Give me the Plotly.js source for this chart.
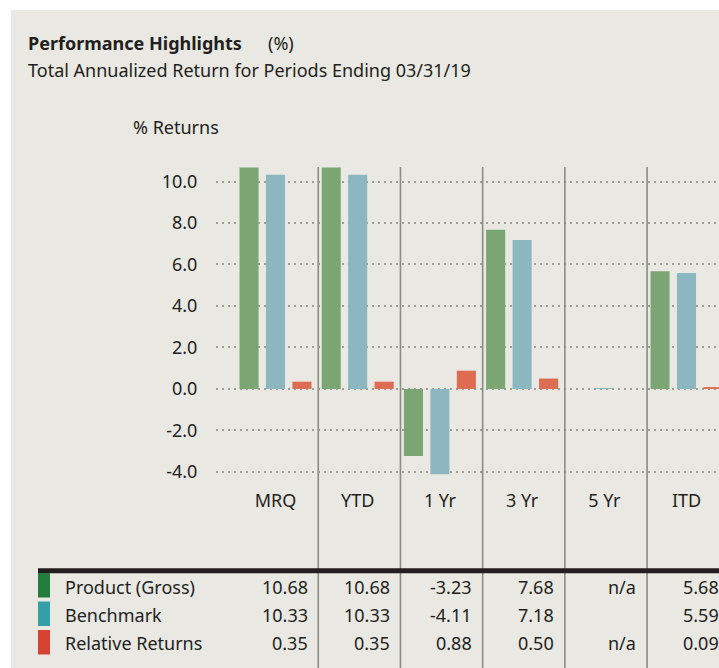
<!DOCTYPE html>
<html><head><meta charset="utf-8">
<script src="https://cdn.plot.ly/plotly-3.0.1.min.js"></script>
<style>
html,body{margin:0;padding:0;background:#ffffff;overflow:hidden;width:719px;height:668px;position:relative;}
#chart{position:absolute;left:11px;top:10px;width:740px;height:658px;}
</style>
</head><body><div id="chart"></div>
<script>
// ---- data ----
const categories = ['MRQ', 'YTD', '1 Yr', '3 Yr', '5 Yr', 'ITD'];
const seriesNames = ['Product (Gross)', 'Benchmark', 'Relative Returns'];
const productValues = [10.68, 10.68, -3.23, 7.68, null, 5.68];
const benchmarkValues = [10.33, 10.33, -4.11, 7.18, 0.05, 5.59];
const relativeValues = [0.35, 0.35, 0.88, 0.50, null, 0.09];
const productLabels = ['10.68', '10.68', '-3.23', '7.68', 'n/a', '5.68'];
const benchmarkLabels = ['10.33', '10.33', '-4.11', '7.18', '', '5.59'];
const relativeLabels = ['0.35', '0.35', '0.88', '0.50', 'n/a', '0.09'];
const yTickValues = [-4, -2, 0, 2, 4, 6, 8, 10];
const yTickLabels = ['-4.0', '-2.0', '0.0', '2.0', '4.0', '6.0', '8.0', '10.0'];

// ---- styling / geometry ----
const BG = '#e9e8e2';
const TXT = '#231f20';
const barColors = ['#7ba674', '#8cb6c0', '#de6c53'];
const keyColors = ['#237d3c', '#33a0a8', '#d64332'];
const OX = 11, OY = 10;
// the figure is wider than the window; its right part is cut off as in the original
const W = 740, H = 658, ML = 205, MR = 0, MT = 157, MB = 188;
const PW = W - ML - MR, PH = H - MT - MB;
const PX_PER_CAT = 82.2;
const px = x => (x - OX - ML) / PW;
const py = y => (OY + MT + PH - y) / PH;
const FONT = 'Noto Sans, Open Sans, sans-serif';

const valueSets = [productValues, benchmarkValues, relativeValues];
const labelSets = [productLabels, benchmarkLabels, relativeLabels];
const rowY = [586.7, 615, 642.7];

const traces = valueSets.map((vals, k) => ({
  type: 'bar', x: categories, y: vals, name: seriesNames[k],
  marker: {color: barColors[k], line: {width: 0}}, hoverinfo: 'skip'
}));

const shapes = [];
// category separators
for (let i = 0; i < categories.length; i++) {
  shapes.push({type: 'line', xref: 'x', yref: 'paper', x0: i + 0.52, x1: i + 0.52,
    y0: -1.2, y1: 1, line: {color: '#8d8c80', width: 1.6}});
}
// table rule
shapes.push({type: 'line', xref: 'paper', yref: 'paper', x0: px(38), x1: 1.05,
  y0: py(570.8), y1: py(570.8), line: {color: TXT, width: 5}});
// key squares
const keyTop = [573, 601.5, 630];
for (let k = 0; k < 3; k++) {
  shapes.push({type: 'rect', xref: 'paper', yref: 'paper', x0: px(38), x1: px(50),
    y0: py(keyTop[k] + 24.5), y1: py(keyTop[k]), fillcolor: keyColors[k], line: {width: 0}});
}

const annotations = [
  {text: '<b>Performance Highlights</b>', x: px(26), y: py(43), xanchor: 'left', yanchor: 'middle', font: {size: 18}},
  {text: '(%)', x: px(266), y: py(43), xanchor: 'left', yanchor: 'middle', font: {size: 18}},
  {text: 'Total Annualized Return for Periods Ending 03/31/19', x: px(26), y: py(70), xanchor: 'left', yanchor: 'middle', font: {size: 18}},
  {text: '% Returns', x: px(131), y: py(127), xanchor: 'left', yanchor: 'middle', font: {size: 18}}
];
for (let k = 0; k < 3; k++) {
  annotations.push({text: seriesNames[k], x: px(63), y: py(rowY[k]), xanchor: 'left', yanchor: 'middle', font: {size: 18}});
  labelSets[k].forEach((t, i) => {
    if (t) annotations.push({text: t, xref: 'x', x: i + 0.415, y: py(rowY[k]), xanchor: 'right', yanchor: 'middle', font: {size: 18}});
  });
}
annotations.forEach(a => { a.showarrow = false; if (!a.xref) a.xref = 'paper'; a.yref = 'paper'; });

const xStart = -0.724;
const layout = {
  width: W, height: H,
  margin: {l: ML, r: MR, t: MT, b: MB, pad: 0},
  paper_bgcolor: BG, plot_bgcolor: BG,
  font: {family: FONT, color: TXT, size: 18},
  showlegend: false,
  barmode: 'group', bargap: 0.034, bargroupgap: 0.28,
  xaxis: {type: 'category', range: [xStart, xStart + PW / PX_PER_CAT], showgrid: false, zeroline: false, showline: false,
    ticks: 'outside', ticklen: 4, tickcolor: 'rgba(0,0,0,0)', tickfont: {size: 18}, fixedrange: true},
  yaxis: {range: [-4.39, 10.7], tickmode: 'array', tickvals: yTickValues, ticktext: yTickLabels,
    showgrid: true, gridcolor: '#9d9c95', gridwidth: 2, griddash: '2px,4px',
    zeroline: false, showline: false, ticks: 'outside', ticklen: 14, tickcolor: 'rgba(0,0,0,0)',
    tickfont: {size: 18}, fixedrange: true},
  shapes: shapes,
  annotations: annotations
};

Plotly.newPlot('chart', traces, layout, {staticPlot: true, displayModeBar: false});
</script>
</body></html>
